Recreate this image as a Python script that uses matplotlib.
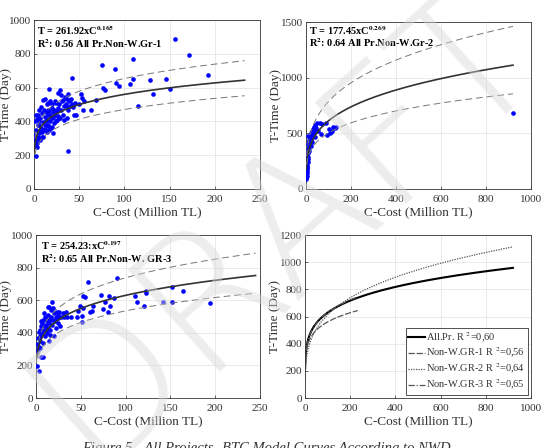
import numpy as np
import matplotlib
matplotlib.use('Agg')
import matplotlib.pyplot as plt

plt.rcParams['font.family'] = ['Liberation Serif', 'DejaVu Serif']
plt.rcParams['mathtext.fontset'] = 'stix'

# ---- data ----
# panel 1: Non-W. Gr-1
p1_cost = [156, 172, 110, 75, 90, 42, 192, 146, 128, 110, 91, 94, 106, 76, 79, 150, 132, 69, 115, 38, 2,
           63, 55, 52, 53, 47, 50, 54,
           0.5, 1, 1, 1.5, 2, 2, 2.5, 3, 3, 3.5, 4, 4, 4.5, 5, 5, 5.5, 6, 6, 6.5, 7, 7, 8, 8, 8.5, 9, 9,
           10, 10, 10, 11, 11, 12, 12, 12, 12, 13, 13, 14, 14, 14, 15, 15, 16, 16, 16, 17, 17, 17, 18, 18,
           18, 19, 19, 20, 20, 20, 21, 21, 21, 22, 22, 23, 23, 24, 24, 25, 25, 26, 27, 27, 28, 28, 29, 29,
           30, 30, 31, 32, 32, 33, 33, 34, 35, 36, 36, 37, 38, 38, 39, 40, 40, 41, 42, 43, 44, 45]
p1_time = [890, 795, 770, 735, 712, 655, 672, 648, 645, 652, 625, 612, 620, 598, 588, 590, 565, 525, 490, 225, 197,
           465, 520, 560, 540, 435, 500, 470,
           320, 290, 405, 256, 437, 300, 350, 412, 275, 250, 380, 310, 440, 330, 295, 400, 378, 467, 345, 290, 420, 487, 360, 339, 310, 450,
           527, 395, 310, 470, 350, 530, 428, 353, 380, 455, 400, 408, 500, 340, 470, 370, 507, 379, 440, 590, 461, 350, 437, 400,
           520, 428, 360, 369, 480, 500, 457, 330, 420, 390, 470, 440, 520, 507, 400, 408, 460, 430, 566, 480, 420, 500, 586, 418,
           556, 470, 520, 527, 440, 408, 490, 546, 500, 487, 420, 530, 560, 470, 520, 525, 490, 533, 500, 487, 440, 510]

# panel 2: Non-W. Gr-2
p2_cost = [2, 3, 4, 3, 5, 6, 4, 7, 8, 10, 6, 9, 12, 10, 14, 8, 12, 15, 18, 11, 20, 25, 16, 22, 28, 30, 35, 40,
           45, 50, 60, 70, 32, 38, 42, 55, 65, 90, 92, 100, 110, 120, 130, 135, 115, 105, 28, 24, 5, 3, 1, 2, 920]
p2_time = [90, 120, 140, 160, 180, 200, 220, 240, 270, 290, 300, 320, 340, 360, 380, 400, 420, 440, 460, 480, 500,
           520, 470, 450, 480, 540, 560, 575, 550, 590, 590, 580, 500, 520, 470, 520, 490, 590, 489, 540, 510, 560,
           550, 560, 520, 500, 420, 390, 250, 200, 100, 130, 680]

# panel 3: Non-W. GR-3
p3_cost = [0.5, 1, 3, 1.5, 2, 3, 4, 5, 6, 8, 4, 5, 6, 7, 7, 8, 8, 9, 10, 10, 11, 12, 12, 13, 13, 14, 14, 15, 15,
           16, 16, 17, 17, 18, 18, 19, 20, 20, 21, 22, 22, 23, 24, 25, 26, 27, 28, 30, 31, 33, 35, 39, 46, 47, 49,
           51, 51, 52, 53, 55, 58, 60, 62, 64, 72, 75, 77, 80, 81, 83, 87, 90, 110, 113, 121, 123, 123, 142, 152,
           152, 164, 194, 2, 6, 9, 11, 3, 13, 19, 16, 24, 10]
p3_time = [280, 194, 164, 330, 300, 403, 350, 305, 254, 254, 420, 380, 440, 400, 460, 340, 480, 420, 380, 500, 450,
           470, 400, 430, 510, 490, 350, 460, 560, 480, 420, 500, 540, 590, 450, 480, 520, 380, 470, 500, 430, 530,
           460, 490, 530, 440, 500, 520, 495, 530, 500, 499, 495, 536, 566, 505, 468, 550, 628, 618, 714, 530, 536,
           566, 630, 546, 587, 530, 628, 566, 616, 736, 624, 587, 566, 658, 644, 591, 679, 591, 656, 583, 370, 470,
           520, 420, 310, 560, 550, 385, 510, 440]

# fitted models T = a * C^b (main curve, upper bound, lower bound), and curve end (max cost)
fits = [
    dict(a=261.92, b=0.165, up=(290, 0.1765), lo=(197, 0.189), cmin=0.4, cmax=233),
    dict(a=177.45, b=0.269, up=(217.6, 0.279), lo=(167.8, 0.2386), cmin=1.0, cmax=920),
    dict(a=254.23, b=0.197, up=(283, 0.208), lo=(207, 0.206), cmin=0.8, cmax=245),
]
texts = [
    (r'T = 261.92xC$^{\mathbf{0.165}}$', r'R$^{\mathbf{2}}$: 0.56 All Pr.Non-W.Gr-1'),
    (r'T = 177.45xC$^{\mathbf{0.269}}$', r'R$^{\mathbf{2}}$: 0.64 All Pr.Non-W.Gr-2'),
    (r'T = 254.23:xC$^{\mathbf{0.197}}$', r'R$^{\mathbf{2}}$: 0.65 All Pr.Non-W. GR-3'),
]
text_pos = [(0.015, 0.94, 0.858), (0.015, 0.952, 0.876), (0.022, 0.937, 0.855)]

# panel 4 models
allpr = dict(a=262, b=0.19, cmin=0.4, cmax=920)
legend_labels = ['All.Pr. R $^2$=0,60', 'Non-W.GR-1 R $^2$=0,56',
                 'Non-W.GR-2 R $^2$=0,64', 'Non-W.GR-3 R $^2$=0,65']

xlims = [(0, 250), (0, 1000), (0, 250), (0, 1000)]
ylims = [(0, 1000), (0, 1500), (0, 1000), (0, 1200)]
xticks = [np.arange(0, 251, 50), np.arange(0, 1001, 200), np.arange(0, 251, 50), np.arange(0, 1001, 200)]
yticks = [np.arange(0, 1001, 200), np.arange(0, 1501, 500), np.arange(0, 1001, 200), np.arange(0, 1201, 200)]

positions = [
    [34/547, 1-189/448, 226/547, 169/448],
    [306/547, 1-189/448, 225/547, 167/448],
    [36/547, 1-398/448, 224/547, 163/448],
    [305/547, 1-398/448, 226/547, 163/448],
]
ylabel_right_px = [12, 282, 12, 281]  # right edge of the rotated y label, in figure pixels

fig = plt.figure(figsize=(5.47, 4.48), dpi=100)
axes = [fig.add_axes(p) for p in positions]

tick_col = '#333333'


def style(ax, i):
    ax.set_xlim(*xlims[i])
    ax.set_ylim(*ylims[i])
    ax.set_xticks(xticks[i])
    ax.set_yticks(yticks[i])
    ax.grid(True, color='#e6e6e6', linewidth=0.6)
    ax.set_axisbelow(True)
    ax.tick_params(direction='in', length=2.5, width=0.5, labelsize=8, colors=tick_col)
    ax.tick_params(axis='x', pad=4)
    ax.tick_params(axis='y', pad=2)
    for s in ax.spines.values():
        s.set_color('#333333')
        s.set_linewidth(0.6)
    ax.set_xlabel('C-Cost (Million TL)', fontsize=9.5, color=tick_col, labelpad=2)
    ax.set_ylabel('T-Time (Day)', fontsize=9.5, color=tick_col)
    left_px = positions[i][0] * 547
    ax.yaxis.set_label_coords((ylabel_right_px[i] - left_px) / (positions[i][2] * 547), 0.5)


def curve(a, b, cmin, cmax):
    c = np.linspace(cmin, cmax, 400)
    return c, a * c ** b


scatter_data = [(p1_cost, p1_time), (p2_cost, p2_time), (p3_cost, p3_time)]
for i in range(3):
    ax = axes[i]
    style(ax, i)
    f = fits[i]
    ax.scatter(scatter_data[i][0], scatter_data[i][1], s=11, color='#0000ff', zorder=3, linewidths=0)
    c, t = curve(f['a'], f['b'], f['cmin'], f['cmax'])
    ax.plot(c, t, color='#333333', lw=1.2, zorder=4)
    c, t = curve(f['up'][0], f['up'][1], f['cmin'] * 3, f['cmax'])
    ax.plot(c, t, color='#777777', lw=0.7, ls=(0, (7, 4)), zorder=4)
    c, t = curve(f['lo'][0], f['lo'][1], f['cmin'] * 3, f['cmax'])
    ax.plot(c, t, color='#777777', lw=0.7, ls=(0, (7, 4)), zorder=4)
    x0, y1, y2 = text_pos[i]
    ax.text(x0, y1, texts[i][0], transform=ax.transAxes, fontsize=7.5, fontweight='bold', va='center')
    ax.text(x0, y2, texts[i][1], transform=ax.transAxes, fontsize=7.5, fontweight='bold', va='center')

ax = axes[3]
style(ax, 3)
c, t = curve(allpr['a'], allpr['b'], allpr['cmin'], allpr['cmax'])
ax.plot(c, t, color='black', lw=1.5, label=legend_labels[0])
styles = [(0, (5, 1.5)), (0, (1, 1)), (0, (5, 1.5, 1, 1.5))]
for k in range(3):
    f = fits[k]
    c, t = curve(f['a'], f['b'], 0.4, f['cmax'])
    ax.plot(c, t, color='#555555', lw=0.9, ls=styles[k], label=legend_labels[k + 1])
leg = ax.legend(loc='lower right', fontsize=7.5, frameon=True, fancybox=False, edgecolor='#333333',
                handlelength=1.6, handletextpad=0.1, borderpad=0.25, labelspacing=0.15,
                borderaxespad=0.3, framealpha=1)
leg.get_frame().set_linewidth(0.6)
for txt in leg.get_texts():
    txt.set_color(tick_col)

# caption (cut at the bottom edge of the image)
fig.text(0.487, -0.008, 'Figure 5 - All Projects- BTC Model Curves According to NWD',
         fontsize=10.5, style='italic', ha='center', va='baseline', color=tick_col)

# faint DRAFT watermark
fig.text(0.52, 0.5, 'DRAFT', fontsize=135, color='#d8d8d8', alpha=0.45, rotation=42,
         ha='center', va='center', family='DejaVu Sans', fontweight='light', zorder=10)

fig.savefig('out.png', dpi=100)
